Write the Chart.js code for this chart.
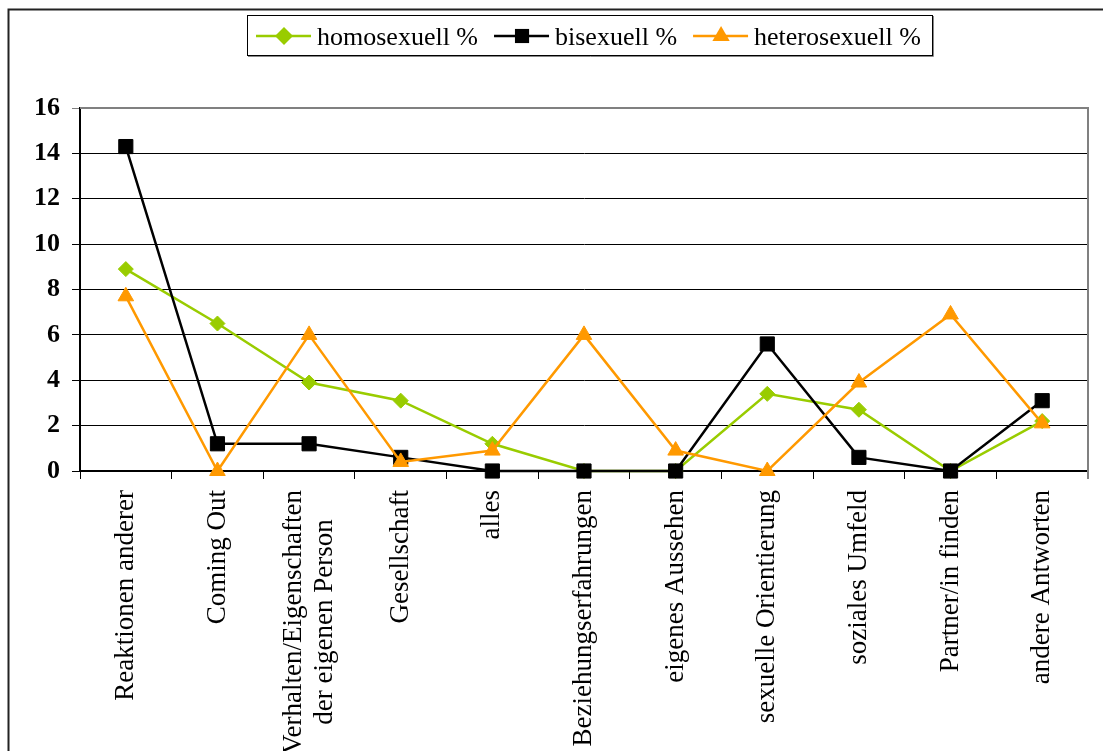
<!DOCTYPE html>
<html><head><meta charset="utf-8">
<script src="https://cdn.jsdelivr.net/npm/chart.js@4"></script>
<style>html,body{margin:0;padding:0;background:#fff;overflow:hidden}#wrap{width:1103px;height:751px;position:relative}canvas{display:block}</style>
</head><body><div id="wrap"><canvas id="c" width="1103" height="751"></canvas></div>
<script>
const categories = [
  ["Reaktionen anderer"],
  ["Coming Out"],
  ["Verhalten/Eigenschaften", "der eigenen Person"],
  ["Gesellschaft"],
  ["alles"],
  ["Beziehungserfahrungen"],
  ["eigenes Aussehen"],
  ["sexuelle Orientierung"],
  ["soziales Umfeld"],
  ["Partner/in finden"],
  ["andere Antworten"]
];
const homosexuell   = [8.9, 6.5, 3.9, 3.1, 1.2, 0, 0, 3.4, 2.7, 0, 2.2];
const bisexuell     = [14.3, 1.2, 1.2, 0.6, 0, 0, 0, 5.6, 0.6, 0, 3.1];
const heterosexuell = [7.7, 0, 6.0, 0.4, 0.9, 6.0, 0.9, 0, 3.9, 6.9, 2.1];
const seriesNames = ["homosexuell %", "bisexuell %", "heterosexuell %"];
const yMin = 0, yMax = 16, yStep = 2;

const FONT = '"Liberation Serif", "Times New Roman", serif';
const colors = ["#99CC00", "#000000", "#FF9900"];
const styles = ["rectRot", "rect", "triangle"];
const radii = [7.5, 10, 9];

function drawMarker(ctx, style, x, y, r, color) {
  ctx.save();
  ctx.fillStyle = color;
  ctx.beginPath();
  if (style === "rectRot") {
    ctx.moveTo(x, y - r); ctx.lineTo(x + r, y); ctx.lineTo(x, y + r); ctx.lineTo(x - r, y);
  } else if (style === "rect") {
    const s = r * Math.SQRT1_2;
    ctx.rect(x - s, y - s, 2 * s, 2 * s);
  } else {
    const h = r * 0.866;
    ctx.moveTo(x, y - r); ctx.lineTo(x + h, y + r / 2); ctx.lineTo(x - h, y + r / 2);
  }
  ctx.closePath();
  ctx.fill();
  ctx.restore();
}

const decor = {
  id: "decor",
  afterDraw(chart) {
    const ctx = chart.ctx;
    const a = chart.chartArea;
    ctx.save();
    // outer frame
    ctx.strokeStyle = "#222"; ctx.lineWidth = 2;
    ctx.beginPath(); ctx.moveTo(8.5, 760); ctx.lineTo(8.5, 9.5); ctx.lineTo(1110, 9.5); ctx.stroke();
    // plot area top/right border grey
    ctx.strokeStyle = "#808080"; ctx.lineWidth = 2;
    ctx.beginPath(); ctx.moveTo(a.left, a.top); ctx.lineTo(a.right, a.top); ctx.lineTo(a.right, a.bottom + 8); ctx.stroke();
    // x labels
    const xs = chart.scales.x;
    ctx.fillStyle = "#000";
    ctx.font = "27px " + FONT;
    categories.forEach((lines, i) => {
      const x = xs.getPixelForTick(i);
      const W = Math.max(...lines.map(l => ctx.measureText(l).width));
      ctx.save();
      ctx.translate(x, xs.top + 19 + W / 2);
      ctx.rotate(-Math.PI / 2);
      ctx.textAlign = "center"; ctx.textBaseline = "middle";
      lines.forEach((l, j) => ctx.fillText(l, 0, (j - (lines.length - 1) / 2) * 31));
      ctx.restore();
    });
    // legend
    ctx.strokeStyle = "#000"; ctx.lineWidth = 1;
    ctx.strokeRect(247.5, 15.5, 685, 40);
    ctx.strokeStyle = "#888";
    ctx.beginPath(); ctx.moveTo(248, 56.5); ctx.lineTo(933.5, 56.5); ctx.lineTo(933.5, 16); ctx.stroke();
    ctx.font = "26px " + FONT;
    ctx.textAlign = "left"; ctx.textBaseline = "alphabetic";
    let x = 256;
    const ly = 36;
    seriesNames.forEach((name, i) => {
      ctx.strokeStyle = colors[i]; ctx.lineWidth = 2.5;
      ctx.beginPath(); ctx.moveTo(x, ly); ctx.lineTo(x + 55, ly); ctx.stroke();
      drawMarker(ctx, styles[i], x + 28, ly, i === 0 ? 9 : 10, colors[i]);
      ctx.fillStyle = "#000";
      ctx.fillText(name, x + 61, 45);
      x += 61 + ctx.measureText(name).width + 16;
    });
    ctx.restore();
  }
};

const seriesData = [homosexuell, bisexuell, heterosexuell];
new Chart(document.getElementById("c"), {
  type: "line",
  data: {
    labels: categories,
    datasets: seriesData.map((d, i) => ({
      label: seriesNames[i],
      data: d,
      borderColor: colors[i],
      backgroundColor: colors[i],
      borderWidth: 2.5,
      pointStyle: styles[i],
      pointRadius: radii[i],
      pointHoverRadius: radii[i],
      pointBorderWidth: 1,
      pointBorderColor: colors[i],
      pointBackgroundColor: colors[i],
      tension: 0,
      clip: false,
      order: 3 - i
    }))
  },
  options: {
    responsive: false,
    animation: false,
    events: [],
    layout: { padding: { top: 108, right: 15, left: 0, bottom: 0 } },
    plugins: { legend: { display: false }, tooltip: { enabled: false } },
    scales: {
      x: {
        offset: true,
        grid: { offset: true, drawOnChartArea: false, drawTicks: true, tickLength: 8, color: "#000", lineWidth: 1 },
        border: { color: "#000", width: 2 },
        ticks: { display: false },
        afterFit(s) { s.height = 280; }
      },
      y: {
        min: yMin, max: yMax,
        ticks: { stepSize: yStep, color: "#000", padding: 12, font: { family: FONT, size: 26, weight: "bold" } },
        grid: { color: (c) => (c.tick && c.tick.value === yMax ? "#808080" : "#000"), lineWidth: 1, tickLength: 8 },
        border: { color: "#000", width: 2 },
        afterFit(s) { s.width = 80; }
      }
    }
  },
  plugins: [decor]
});
</script>
</body></html>
